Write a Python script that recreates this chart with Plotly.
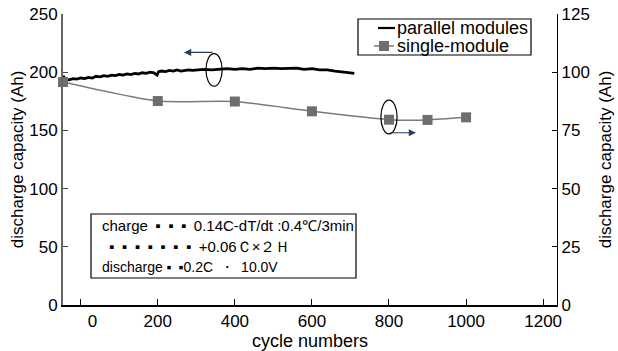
import plotly.graph_objects as go

# ---- data ----
par_cycles = [-46, -40, -30, -20, -10, 0, 10, 20, 30, 40, 50, 60, 70, 80, 90, 100, 110, 120,
              130, 140, 150, 160, 170, 180, 190, 198, 202, 210, 220, 230, 240, 250, 260, 270,
              280, 290, 300, 320, 340, 360, 380, 400, 420, 440, 460, 480, 500, 520, 540,
              560, 580, 600, 620, 640, 660, 680, 700, 710]
par_cap = [197, 194, 193.5, 194.5, 194, 195, 194.5, 195.5, 195, 196.5, 196, 197, 196.5, 197.5,
           197, 198, 197.5, 198.5, 198, 199, 198.5, 199.5, 199, 200, 199.5, 197.5, 200.5, 201,
           200.5, 201.5, 201, 202, 201, 201.5, 202, 201.5, 202, 202.5, 202, 202.5, 203, 202.5,
           203, 202.5, 203.5, 203, 203.5, 203, 203.5, 203.5, 202.5, 203, 202, 202, 201, 200.5,
           199.5, 199]

single_cycles = [-46, 200, 400, 600, 800, 900, 1000]
single_cap = [95.8, 87.6, 87.4, 83.2, 79.6, 79.5, 80.6]

x_ticks = [0, 200, 400, 600, 800, 1000, 1200]
y_left_ticks = [0, 50, 100, 150, 200, 250]
y_right_ticks = [0, 25, 50, 75, 100, 125]

legend_names = ["parallel modules", "single-module"]

SP = "\u2002"
box_lines = ["charge" + SP + ("\u25aa" + SP) * 3 + "0.14C-dT/dt :0.4\u2103/3min",
             ("\u25aa" + SP) * 7 + "+0.06\uff23\u00d7\uff12\uff28",
             "discharge \u25aa" + SP + "\u25aa0.2C" + SP + "\u30fb" + SP + "10.0V"]
box_sizes = [15, 15, 14]

FONT = "Liberation Sans, Arial, sans-serif"

# plot area in pixels
L, R, T, B = 63, 557, 14, 305
W, H = 618, 351


def px_x(p):
    return (p - L) / (R - L)


def px_y(p):
    return (B - p) / (B - T)


fig = go.Figure()
fig.add_trace(go.Scatter(x=par_cycles, y=par_cap, mode="lines", name=legend_names[0],
                         line=dict(color="black", width=2.8), yaxis="y", cliponaxis=False))
fig.add_trace(go.Scatter(x=single_cycles, y=single_cap, mode="lines+markers", name=legend_names[1],
                         line=dict(color="#7a7a7a", width=1.5, shape="spline", smoothing=0.6),
                         marker=dict(symbol="square", size=10, color="#6e6e6e"), yaxis="y2",
                         cliponaxis=False))

# ellipses + arrows
fig.add_shape(type="circle", xref="x", yref="y", x0=325, x1=367, y0=188, y1=216,
              line=dict(color="black", width=1.2))
fig.add_shape(type="circle", xref="x", yref="y", x0=779, x1=821, y0=147, y1=176,
              line=dict(color="black", width=1.2))
fig.add_annotation(x=268, y=217, ax=346, ay=217, xref="x", yref="y", axref="x", ayref="y",
                   showarrow=True, arrowhead=2, arrowsize=1.2, arrowwidth=1.2, text="")
fig.add_annotation(x=870, y=148, ax=800, ay=148, xref="x", yref="y", axref="x", ayref="y",
                   showarrow=True, arrowhead=2, arrowsize=1.2, arrowwidth=1.2, text="")

# condition text box
fig.add_shape(type="rect", xref="paper", yref="paper", x0=px_x(91), x1=px_x(356),
              y0=px_y(278), y1=px_y(214), line=dict(color="black", width=1.2),
              fillcolor="white", layer="below")
for i, (t, xs, fs) in enumerate(zip(box_lines, [100, 107, 100], box_sizes)):
    fig.add_annotation(text=t, xref="paper", yref="paper", x=px_x(xs), y=px_y(225 + 21 * i),
                       xanchor="left", yanchor="middle", showarrow=False,
                       font=dict(size=fs, color="black", family=FONT))

# legend box (drawn manually for tight row spacing)
fig.add_shape(type="rect", xref="paper", yref="paper", x0=px_x(358), x1=px_x(531),
              y0=px_y(55), y1=px_y(19), line=dict(color="black", width=1.2),
              fillcolor="white")
fig.add_shape(type="line", xref="paper", yref="paper", x0=px_x(378), x1=px_x(395),
              y0=px_y(28), y1=px_y(28), line=dict(color="black", width=2.2))
fig.add_shape(type="line", xref="paper", yref="paper", x0=px_x(374), x1=px_x(394),
              y0=px_y(46), y1=px_y(46), line=dict(color="#7a7a7a", width=1.5))
fig.add_shape(type="rect", xref="paper", yref="paper", x0=px_x(379), x1=px_x(389),
              y0=px_y(51), y1=px_y(41), line=dict(width=0), fillcolor="#6e6e6e")
for i, name in enumerate(legend_names):
    fig.add_annotation(text=name, xref="paper", yref="paper", x=px_x(395), y=px_y(28 + 18 * i),
                       xanchor="left", yanchor="middle", showarrow=False,
                       font=dict(size=18, color="black", family=FONT))

fig.update_layout(
    width=W, height=H,
    margin=dict(l=L, r=W - R, t=T, b=H - B, autoexpand=False),
    paper_bgcolor="white", plot_bgcolor="white",
    font=dict(family=FONT, size=17, color="black"),
    showlegend=False,
    xaxis=dict(range=[-46, 1236], tickvals=x_ticks,
               ticktext=["\u00a0" * 5 + "0"] + [str(v) for v in x_ticks[1:]],
               ticks="inside", ticklen=6, tickcolor="black", showline=True, linecolor="black",
               linewidth=1.5, showgrid=False, zeroline=False, ticklabeloverflow="allow",
               automargin=False,
               title=dict(text="cycle numbers", font=dict(size=18), standoff=0)),
    yaxis=dict(range=[0, 250], tickvals=y_left_ticks, ticks="inside", ticklen=5,
               tickcolor="#444", showline=True, linecolor="#666", linewidth=2, showgrid=False,
               zeroline=False, ticklabeloverflow="allow", automargin=False,
               title=dict(text="discharge capacity (Ah)", font=dict(size=17), standoff=1)),
    yaxis2=dict(range=[0, 125], tickvals=y_right_ticks, overlaying="y", side="right",
                ticks="inside", ticklen=5, tickcolor="black", showline=True, linecolor="black",
                linewidth=1.2, showgrid=False, zeroline=False, ticklabeloverflow="allow",
                automargin=False,
                title=dict(text="discharge capacity (Ah)", font=dict(size=17), standoff=10)),
)

fig.write_html("out.html")
